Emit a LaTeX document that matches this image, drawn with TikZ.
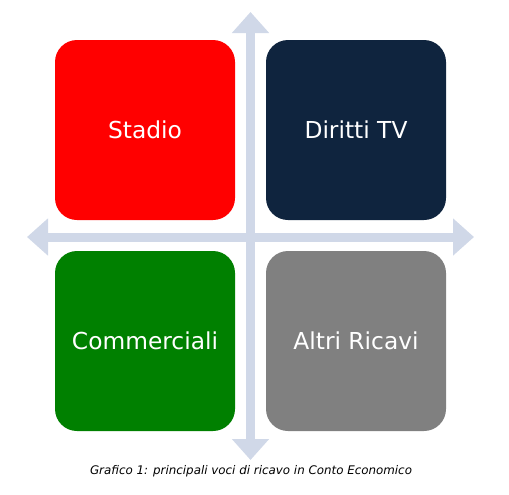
\documentclass[tikz,border=0pt]{standalone}
\usepackage{fontspec}
\setmainfont{DejaVu Sans}
\usetikzlibrary{arrows.meta}

\definecolor{axisblue}{RGB}{208,216,232}
\definecolor{stadiored}{RGB}{255,0,0}
\definecolor{tvnavy}{RGB}{15,36,62}
\definecolor{commgreen}{RGB}{0,128,0}
\definecolor{altrigray}{RGB}{128,128,128}

\begin{document}
\begin{tikzpicture}[
        x=0.75pt, y=-0.75pt,
        quadrant/.style={rectangle, rounded corners=16.5pt, minimum width=135pt, minimum height=135pt, inner sep=0pt, text=white, font=\fontsize{17.5}{20}\selectfont},
        axis/.style={draw=axisblue, line width=6.75pt, {Triangle[width=27pt, length=15.75pt]}-{Triangle[width=27pt, length=15.75pt]}},
        caption/.style={font=\fontsize{8.9}{10}\selectfont\itshape}
    ]
        \useasboundingbox (0,0) rectangle (509,494);

        % Axis end points
        \coordinate (top) at (250.5, 12);
        \coordinate (bottom) at (250.5, 460);
        \coordinate (left) at (27, 237);
        \coordinate (right) at (474, 237);

        % Axes
        \draw[axis] (bottom) -- (top);
        \draw[axis] (left) -- (right);

        % Quadrants
        \node[quadrant, fill=stadiored] (stadio) at (145, 130) {Stadio};
        \node[quadrant, fill=tvnavy] (diritti) at (356, 130) {Diritti TV};
        \node[quadrant, fill=commgreen] (commerciali) at (145, 341) {Commerciali};
        \node[quadrant, fill=altrigray] (altri) at (356, 341) {Altri Ricavi};

        % Caption
        \node[caption] (caption) at (251, 471) {Grafico 1: principali voci di ricavo in Conto Economico};

    \end{tikzpicture}
\end{document}
